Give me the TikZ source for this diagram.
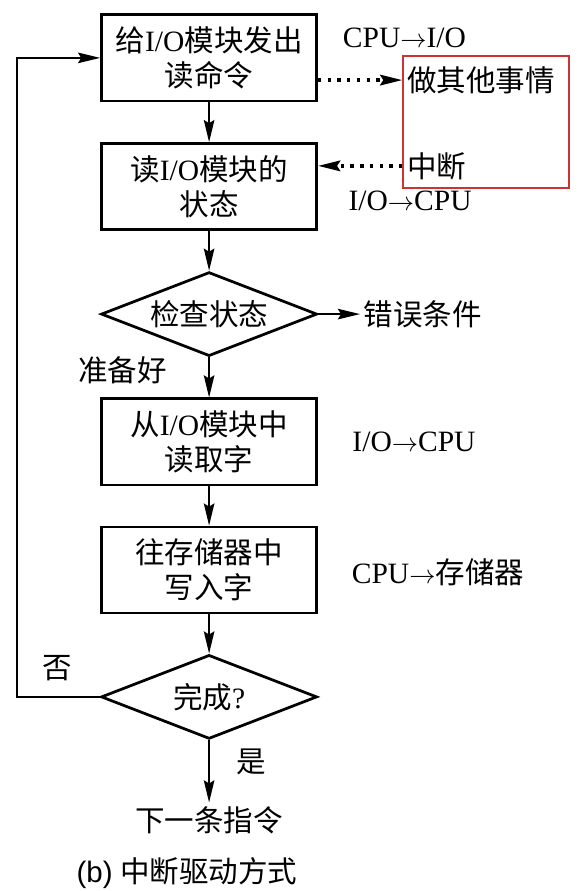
\documentclass[tikz,border=0pt]{standalone}
\usepackage{fontspec}
\setmainfont{Liberation Serif}
\newfontfamily\cjk{Noto Sans CJK SC}
\newfontfamily\capfont{Liberation Sans}
\usetikzlibrary{
  arrows.meta,
  shapes.geometric
}
\definecolor{redframe}{RGB}{204,51,51}
\newcommand{\zh}[1]{{\cjk #1}}

\begin{document}
\begin{tikzpicture}[
  every node/.style={font=\fontsize{28}{33}\selectfont},
  stepbox/.style={draw, line width=2.6pt, minimum width=7.17cm,
                  minimum height=2.87cm, align=center},
  decision/.style={draw, diamond, line width=2.6pt, aspect=2.57,
                   minimum width=7.2cm, minimum height=2.8cm, inner sep=0pt},
  flow/.style={->, line width=1.7pt},
  signal/.style={->, line width=3.2pt, dash pattern=on 3.2pt off 6pt},
  >={Stealth[length=21pt, width=10pt, inset=3pt]}
]
\useasboundingbox (0, 0) rectangle (19.3, 29.7);

% Main flow
\node[stepbox] (cmd) at (6.97, 27.77) {\zh{给}I/O\zh{模块发出}\\\zh{读命令}};
\node[stepbox] (status) at (6.97, 23.48) {\zh{读}I/O\zh{模块的}\\\zh{状态}};
\node[decision] (check) at (6.97, 19.23) {\zh{检查状态}};
\node[stepbox] (fetch) at (6.97, 14.97) {\zh{从}I/O\zh{模块中}\\\zh{读取字}};
\node[stepbox] (store) at (6.97, 10.7) {\zh{往存储器中}\\\zh{写入字}};
\node[decision] (done) at (6.97, 6.47) {\zh{完成}?};
\node (next) at (6.97, 2.37) {\zh{下一条指令}};
\node (caption) at (6.23, 0.6) {{\capfont (b)} \zh{中断驱动方式}};

% CPU side
\node[draw=redframe, line width=1.4pt, minimum width=5.53cm,
  minimum height=4.4cm] (others) at (16.2, 25.63) {};
\node[anchor=west, inner sep=0pt] (busy) at (13.57, 27.03) {\zh{做其他事情}};
\node[anchor=west, inner sep=0pt] (irq) at (13.57, 24.17) {\zh{中断}};

% Labels
\node (d1) at (13.48, 28.43) {CPU$\rightarrow$I/O};
\node (d2) at (13.67, 23.0) {I/O$\rightarrow$CPU};
\node[anchor=west] (err) at (12.0, 19.23) {\zh{错误条件}};
\node (ready) at (4.08, 17.37) {\zh{准备好}};
\node (d3) at (13.8, 14.97) {I/O$\rightarrow$CPU};
\node (d4) at (14.6, 10.63) {CPU$\rightarrow$\zh{存储器}};
\node (no) at (1.9, 7.43) {\zh{否}};
\node (yes) at (8.37, 4.3) {\zh{是}};
\coordinate (back) at (0.57, 6.47);

% Arrows
\draw[flow] (cmd) -- (status);
\draw[flow] (status) -- (check);
\draw[flow] (check) -- (fetch);
\draw[flow] (fetch) -- (store);
\draw[flow] (store) -- (done);
\draw[flow] (done) -- (next);
\draw[flow] (check) -- (err);
\draw[flow] (done.west) -- (back) |- (cmd.west);
\draw[signal] (cmd.east |- busy) -- (others.west |- busy);
\draw[signal] (others.west |- irq) -- (status.east |- irq);

\end{tikzpicture}
\end{document}
